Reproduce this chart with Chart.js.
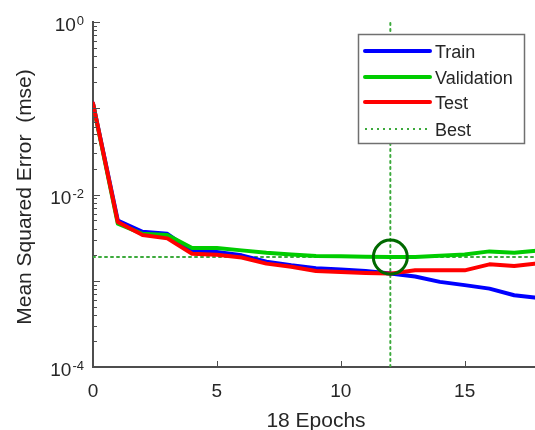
<!DOCTYPE html>
<html>
<head>
<meta charset="utf-8">
<script src="https://cdn.jsdelivr.net/npm/chart.js@4.4.1/dist/chart.umd.min.js"></script>
<style>
html, body { margin: 0; padding: 0; overflow: hidden; background: #fff; }
#perfChart { display: block; }
</style>
</head>
<body>
<canvas id="perfChart" width="540" height="430"></canvas>
<script>
const epochs = [0, 1, 2, 3, 4, 5, 6, 7, 8, 9, 10, 11, 12, 13, 14, 15, 16, 17, 18];
const trainMse = [0.114, 0.0050, 0.0037, 0.0035, 0.0022, 0.00215, 0.00197, 0.00166, 0.00151, 0.00140, 0.00135, 0.00130, 0.00121, 0.00112, 0.00097, 0.00089, 0.00081, 0.00068, 0.00063];
const validationMse = [0.112, 0.0046, 0.0035, 0.0034, 0.0024, 0.0024, 0.00225, 0.00211, 0.00202, 0.00194, 0.00192, 0.00190, 0.00188, 0.00189, 0.00195, 0.00202, 0.00219, 0.00211, 0.00224];
const testMse = [0.114, 0.0048, 0.0034, 0.0031, 0.00206, 0.0020, 0.00186, 0.00158, 0.00145, 0.00130, 0.00126, 0.00123, 0.00121, 0.00132, 0.00132, 0.00132, 0.00155, 0.00148, 0.0016];
const bestEpoch = 12;
const bestMse = validationMse[bestEpoch];
const xTickValues = [0, 5, 10, 15];
const yTickExponents = [0, -2, -4];
const legendLabels = ['Train', 'Validation', 'Test', 'Best'];

const axisColor = '#4d4d4d';
const textColor = '#262626';
const trainColor = 'rgb(0,0,255)';
const validationColor = 'rgb(0,204,0)';
const testColor = 'rgb(255,0,0)';
const bestColor = 'rgb(60,170,60)';
const circleColor = 'rgb(0,105,0)';

function toPoints(values) {
    return epochs.map((e, i) => ({ x: e, y: values[i] }));
}

// ticks, labels, titles and legend in MATLAB style
const matlabDecor = {
    id: 'matlabDecor',
    afterDraw(chart) {
        const ctx = chart.ctx;
        const xs = chart.scales.x;
        const ys = chart.scales.y;
        const area = chart.chartArea;
        ctx.save();
        ctx.strokeStyle = axisColor;
        ctx.lineWidth = 1;

        // y ticks (inward)
        for (let d = -4; d <= 0; d++) {
            for (let m = 1; m <= 9; m++) {
                const v = m * Math.pow(10, d);
                if (v > 1) break;
                const py = Math.round(ys.getPixelForValue(v)) + 0.5;
                const len = m === 1 ? 7 : 4;
                ctx.beginPath();
                ctx.moveTo(area.left, py);
                ctx.lineTo(area.left + len, py);
                ctx.stroke();
            }
        }
        // x ticks (inward)
        xTickValues.forEach(v => {
            const px = Math.round(xs.getPixelForValue(v)) + 0.5;
            ctx.beginPath();
            ctx.moveTo(px, area.bottom);
            ctx.lineTo(px, area.bottom - 6);
            ctx.stroke();
        });

        ctx.fillStyle = textColor;
        // x tick labels
        ctx.font = '19px "Liberation Sans", Arial, sans-serif';
        ctx.textAlign = 'center';
        ctx.textBaseline = 'alphabetic';
        xTickValues.forEach(v => {
            ctx.fillText(String(v), xs.getPixelForValue(v), 397);
        });

        // y tick labels 10^n
        yTickExponents.forEach(n => {
            const py = ys.getPixelForValue(Math.pow(10, n));
            const right = 84;
            ctx.font = '13px "Liberation Sans", Arial, sans-serif';
            const sup = String(n);
            const supW = ctx.measureText(sup).width;
            ctx.textAlign = 'left';
            ctx.fillText(sup, right - supW, py + 3);
            ctx.font = '19px "Liberation Sans", Arial, sans-serif';
            ctx.textAlign = 'right';
            ctx.fillText('10', right - supW - 1, py + 9);
        });

        // axis titles
        ctx.font = '21px "Liberation Sans", Arial, sans-serif';
        ctx.textAlign = 'center';
        ctx.fillText('18 Epochs', (area.left + area.right) / 2, 427);
        ctx.save();
        ctx.translate(31, 197);
        ctx.rotate(-Math.PI / 2);
        ctx.fillText('Mean Squared Error  (mse)', 0, 0);
        ctx.restore();

        // legend
        const lx = 358.5, ly = 34.5, lw = 166, lh = 109;
        ctx.fillStyle = '#fff';
        ctx.fillRect(lx, ly, lw, lh);
        ctx.strokeStyle = '#707070';
        ctx.lineWidth = 1.5;
        ctx.strokeRect(lx, ly, lw, lh);
        const rows = [51, 77, 102, 129];
        const styles = [
            { color: trainColor, dash: [], width: 4 },
            { color: validationColor, dash: [], width: 4 },
            { color: testColor, dash: [], width: 4 },
            { color: bestColor, dash: [2, 4], width: 2 }
        ];
        ctx.font = '18px "Liberation Sans", Arial, sans-serif';
        ctx.textAlign = 'left';
        legendLabels.forEach((label, i) => {
            const s = styles[i];
            ctx.strokeStyle = s.color;
            ctx.lineWidth = s.width;
            ctx.setLineDash(s.dash);
            ctx.lineCap = s.dash.length ? 'butt' : 'round';
            ctx.beginPath();
            ctx.moveTo(365, rows[i]);
            ctx.lineTo(430, rows[i]);
            ctx.stroke();
            ctx.setLineDash([]);
            ctx.fillStyle = textColor;
            ctx.fillText(label, 435, rows[i] + 7);
        });
        ctx.restore();
    }
};

const perfChart = new Chart(document.getElementById('perfChart'), {
    type: 'line',
    data: {
        datasets: [
            {
                label: 'Best circle',
                data: [{ x: bestEpoch, y: bestMse }],
                showLine: false,
                pointRadius: 17,
                pointBorderWidth: 3,
                pointBorderColor: circleColor,
                pointBackgroundColor: 'rgba(0,0,0,0)',
                order: 0
            },
            {
                label: 'Test',
                data: toPoints(testMse),
                borderColor: testColor,
                borderWidth: 4,
                pointRadius: 0,
                order: 1
            },
            {
                label: 'Validation',
                data: toPoints(validationMse),
                borderColor: validationColor,
                borderWidth: 4,
                pointRadius: 0,
                order: 2
            },
            {
                label: 'Train',
                data: toPoints(trainMse),
                borderColor: trainColor,
                borderWidth: 4,
                pointRadius: 0,
                order: 3
            },
            {
                label: 'Best x',
                data: [{ x: bestEpoch, y: 1e-4 }, { x: bestEpoch, y: 1 }],
                borderColor: bestColor,
                borderWidth: 2,
                borderDash: [2, 4],
                pointRadius: 0,
                order: 4
            },
            {
                label: 'Best y',
                data: [{ x: 0, y: bestMse }, { x: 18, y: bestMse }],
                borderColor: bestColor,
                borderWidth: 2,
                borderDash: [2, 4],
                pointRadius: 0,
                order: 4
            }
        ]
    },
    options: {
        responsive: false,
        animation: false,
        layout: {
            autoPadding: false,
            padding: { left: 93, right: 1, top: 22, bottom: 63 }
        },
        elements: {
            line: { tension: 0, borderJoinStyle: 'round', borderCapStyle: 'round' }
        },
        scales: {
            x: {
                type: 'linear',
                min: 0,
                max: 18,
                ticks: { display: false },
                grid: { display: false, drawTicks: false },
                border: { display: true, color: axisColor, width: 2 },
                afterFit(scale) { scale.height = 0; }
            },
            y: {
                type: 'logarithmic',
                min: 1e-4,
                max: 1,
                ticks: { display: false },
                grid: { display: false, drawTicks: false },
                border: { display: true, color: axisColor, width: 2 },
                afterFit(scale) { scale.width = 0; }
            }
        },
        plugins: {
            legend: { display: false },
            tooltip: { enabled: false }
        }
    },
    plugins: [matlabDecor]
});
</script>
</body>
</html>
